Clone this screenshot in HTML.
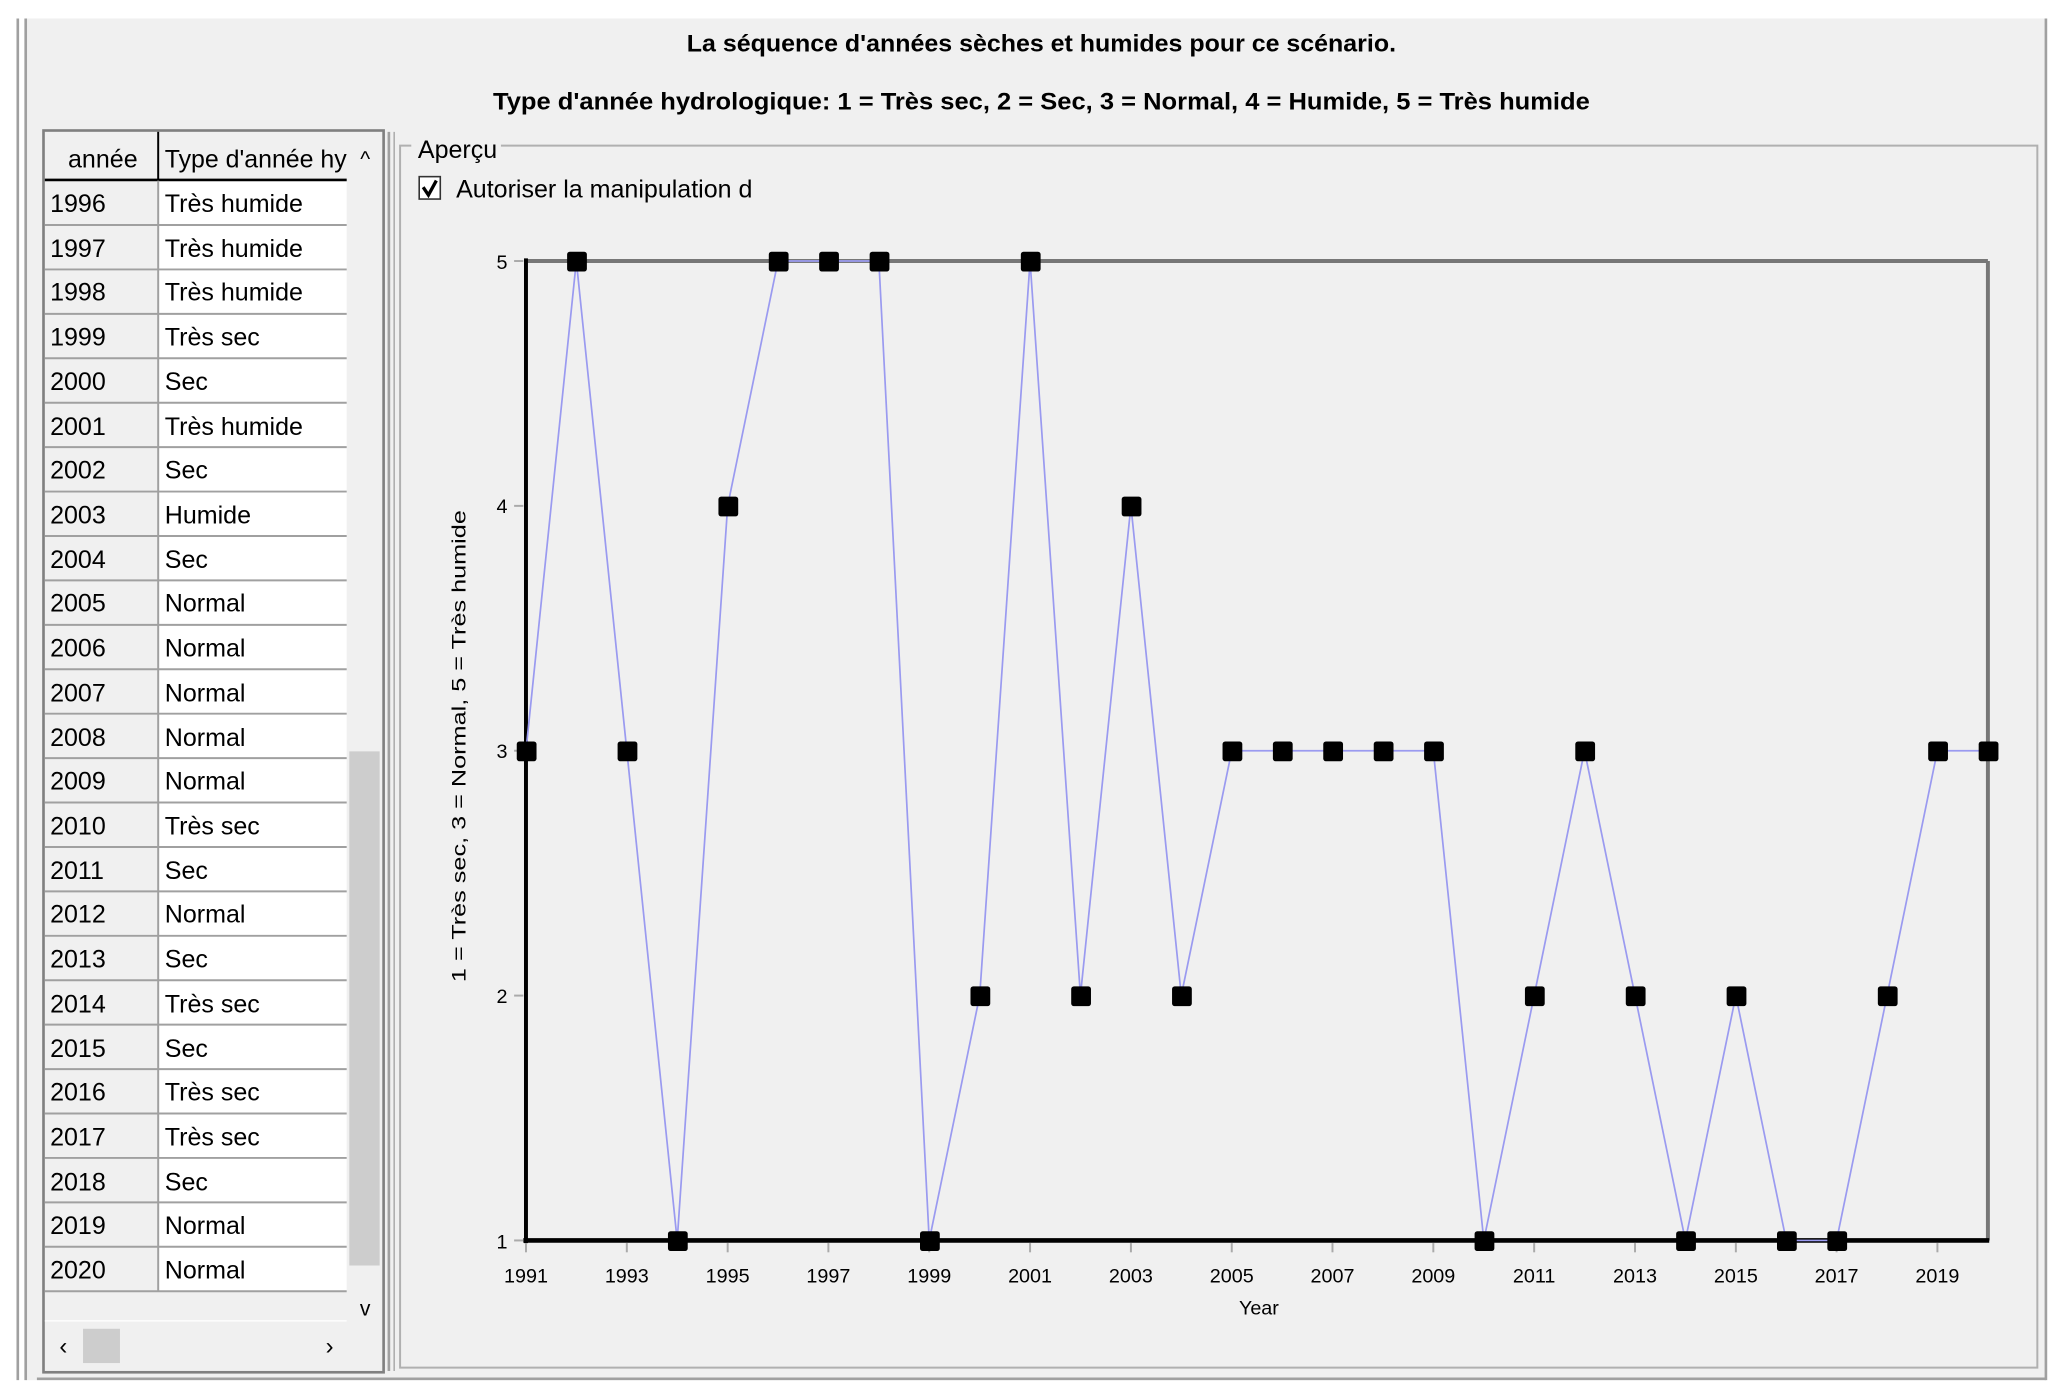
<!DOCTYPE html>
<html><head><meta charset="utf-8"><style>
html,body{margin:0;padding:0;background:#fff;}
svg{display:block;}
text{font-family:"Liberation Sans",sans-serif;fill:#000;}
.t{font-size:19px;}
.ax{font-size:15px;}
</style></head><body>
<svg width="2067" height="1396" viewBox="0 0 1568 1059" preserveAspectRatio="none" xmlns="http://www.w3.org/2000/svg">
<rect x="0" y="0" width="1568" height="1059" fill="#fff"/>
<rect x="20" y="14" width="1532" height="1033" fill="#f0f0f0"/>
<line x1="13.5" y1="14" x2="13.5" y2="1047" stroke="#a0a0a0" stroke-width="2"/>
<line x1="19.5" y1="14" x2="19.5" y2="1047" stroke="#a0a0a0" stroke-width="2"/>
<line x1="28" y1="1046" x2="1552" y2="1046" stroke="#a0a0a0" stroke-width="2"/>
<line x1="1552" y1="14" x2="1552" y2="1047" stroke="#a0a0a0" stroke-width="2"/>
<text x="790" y="39" text-anchor="middle" font-weight="bold" font-size="18" textLength="538" lengthAdjust="spacingAndGlyphs">La séquence d'années sèches et humides pour ce scénario.</text>
<text x="790" y="83" text-anchor="middle" font-weight="bold" font-size="18" textLength="832" lengthAdjust="spacingAndGlyphs">Type d'année hydrologique: 1 = Très sec, 2 = Sec, 3 = Normal, 4 = Humide, 5 = Très humide</text>

<!-- table -->
<rect x="33" y="99" width="258" height="942" fill="#f0f0f0" stroke="#808080" stroke-width="2"/>
<rect x="120" y="137" width="143" height="843" fill="#fff"/>
<line x1="34" y1="136.5" x2="263" y2="136.5" stroke="#000" stroke-width="2"/>
<line x1="120" y1="100" x2="120" y2="137" stroke="#000" stroke-width="1.5"/>
<text x="78" y="127" class="t" text-anchor="middle">année</text>
<text x="125" y="127" class="t" textLength="138" lengthAdjust="spacingAndGlyphs">Type d'année hy</text>
<text x="277" y="126" font-size="16" text-anchor="middle">^</text>
<rect x="265" y="570" width="23" height="390" fill="#cdcdcd"/>
<text x="277" y="998" font-size="16" text-anchor="middle">v</text>
<rect x="63" y="1008" width="28" height="26" fill="#cdcdcd"/>
<text x="48" y="1027" font-size="18" text-anchor="middle">‹</text>
<text x="250" y="1027" font-size="18" text-anchor="middle">›</text>
<line x1="34" y1="1002" x2="263" y2="1002" stroke="#fff" stroke-width="1"/>
<line x1="120" y1="137" x2="120" y2="979" stroke="#a0a0a0" stroke-width="1.5"/>
<g stroke="#a0a0a0" stroke-width="1.5">
<line x1="34" x2="263" y1="170.7" y2="170.7"/><line x1="34" x2="263" y1="204.4" y2="204.4"/><line x1="34" x2="263" y1="238.1" y2="238.1"/><line x1="34" x2="263" y1="271.8" y2="271.8"/><line x1="34" x2="263" y1="305.5" y2="305.5"/><line x1="34" x2="263" y1="339.2" y2="339.2"/><line x1="34" x2="263" y1="372.9" y2="372.9"/><line x1="34" x2="263" y1="406.6" y2="406.6"/><line x1="34" x2="263" y1="440.3" y2="440.3"/><line x1="34" x2="263" y1="474" y2="474"/><line x1="34" x2="263" y1="507.7" y2="507.7"/><line x1="34" x2="263" y1="541.4" y2="541.4"/><line x1="34" x2="263" y1="575.1" y2="575.1"/><line x1="34" x2="263" y1="608.8" y2="608.8"/><line x1="34" x2="263" y1="642.5" y2="642.5"/><line x1="34" x2="263" y1="676.2" y2="676.2"/><line x1="34" x2="263" y1="709.9" y2="709.9"/><line x1="34" x2="263" y1="743.6" y2="743.6"/><line x1="34" x2="263" y1="777.3" y2="777.3"/><line x1="34" x2="263" y1="811" y2="811"/><line x1="34" x2="263" y1="844.7" y2="844.7"/><line x1="34" x2="263" y1="878.4" y2="878.4"/><line x1="34" x2="263" y1="912.1" y2="912.1"/><line x1="34" x2="263" y1="945.8" y2="945.8"/><line x1="34" x2="263" y1="979.5" y2="979.5"/>
</g>
<g class="t">
<text x="38" y="161" class="t">1996</text><text x="125" y="161" class="t">Très humide</text>
<text x="38" y="195" class="t">1997</text><text x="125" y="195" class="t">Très humide</text>
<text x="38" y="228" class="t">1998</text><text x="125" y="228" class="t">Très humide</text>
<text x="38" y="262" class="t">1999</text><text x="125" y="262" class="t">Très sec</text>
<text x="38" y="296" class="t">2000</text><text x="125" y="296" class="t">Sec</text>
<text x="38" y="330" class="t">2001</text><text x="125" y="330" class="t">Très humide</text>
<text x="38" y="363" class="t">2002</text><text x="125" y="363" class="t">Sec</text>
<text x="38" y="397" class="t">2003</text><text x="125" y="397" class="t">Humide</text>
<text x="38" y="431" class="t">2004</text><text x="125" y="431" class="t">Sec</text>
<text x="38" y="464" class="t">2005</text><text x="125" y="464" class="t">Normal</text>
<text x="38" y="498" class="t">2006</text><text x="125" y="498" class="t">Normal</text>
<text x="38" y="532" class="t">2007</text><text x="125" y="532" class="t">Normal</text>
<text x="38" y="566" class="t">2008</text><text x="125" y="566" class="t">Normal</text>
<text x="38" y="599" class="t">2009</text><text x="125" y="599" class="t">Normal</text>
<text x="38" y="633" class="t">2010</text><text x="125" y="633" class="t">Très sec</text>
<text x="38" y="667" class="t">2011</text><text x="125" y="667" class="t">Sec</text>
<text x="38" y="700" class="t">2012</text><text x="125" y="700" class="t">Normal</text>
<text x="38" y="734" class="t">2013</text><text x="125" y="734" class="t">Sec</text>
<text x="38" y="768" class="t">2014</text><text x="125" y="768" class="t">Très sec</text>
<text x="38" y="802" class="t">2015</text><text x="125" y="802" class="t">Sec</text>
<text x="38" y="835" class="t">2016</text><text x="125" y="835" class="t">Très sec</text>
<text x="38" y="869" class="t">2017</text><text x="125" y="869" class="t">Très sec</text>
<text x="38" y="903" class="t">2018</text><text x="125" y="903" class="t">Sec</text>
<text x="38" y="936" class="t">2019</text><text x="125" y="936" class="t">Normal</text>
<text x="38" y="970" class="t">2020</text><text x="125" y="970" class="t">Normal</text>
</g>
<line x1="295" y1="100" x2="295" y2="1040" stroke="#a0a0a0" stroke-width="2"/>
<line x1="299" y1="100" x2="299" y2="1040" stroke="#a0a0a0" stroke-width="1"/>

<!-- groupbox -->
<path d="M312 110.5 H303.5 V1037.5 H1545.5 V110.5 H380" fill="none" stroke="#b0b0b0" stroke-width="1.5"/>
<text x="317" y="120" class="t">Aperçu</text>
<rect x="318" y="134" width="16" height="17" fill="#fff" stroke="#333" stroke-width="1.2"/>
<path d="M321 142 L325 148 L331 137" fill="none" stroke="#000" stroke-width="2.5"/>
<text x="346" y="150" class="t">Autoriser la manipulation d</text>

<!-- plot -->
<line x1="399" y1="198" x2="1508" y2="198" stroke="#777" stroke-width="3"/>
<line x1="1508" y1="198" x2="1508" y2="941" stroke="#777" stroke-width="3"/>
<line x1="399" y1="196" x2="399" y2="943" stroke="#000" stroke-width="3"/>
<line x1="397" y1="941" x2="1509" y2="941" stroke="#000" stroke-width="3.5"/>
<g stroke="#aaa" stroke-width="1.5">
<line x1="390" x2="397" y1="198" y2="198"/><line x1="390" x2="397" y1="383.75" y2="383.75"/><line x1="390" x2="397" y1="569.5" y2="569.5"/><line x1="390" x2="397" y1="755.25" y2="755.25"/><line x1="390" x2="397" y1="941" y2="941"/>
<line x1="399" x2="399" y1="943" y2="950"/><line x1="475.5" x2="475.5" y1="943" y2="950"/><line x1="552" x2="552" y1="943" y2="950"/><line x1="628.4" x2="628.4" y1="943" y2="950"/><line x1="704.9" x2="704.9" y1="943" y2="950"/><line x1="781.4" x2="781.4" y1="943" y2="950"/><line x1="857.9" x2="857.9" y1="943" y2="950"/><line x1="934.4" x2="934.4" y1="943" y2="950"/><line x1="1010.8" x2="1010.8" y1="943" y2="950"/><line x1="1087.3" x2="1087.3" y1="943" y2="950"/><line x1="1163.8" x2="1163.8" y1="943" y2="950"/><line x1="1240.3" x2="1240.3" y1="943" y2="950"/><line x1="1316.8" x2="1316.8" y1="943" y2="950"/><line x1="1393.2" x2="1393.2" y1="943" y2="950"/><line x1="1469.7" x2="1469.7" y1="943" y2="950"/>
</g>
<g class="ax" text-anchor="end">
<text x="385" y="204" class="ax" text-anchor="end">5</text>
<text x="385" y="389" class="ax" text-anchor="end">4</text>
<text x="385" y="575" class="ax" text-anchor="end">3</text>
<text x="385" y="761" class="ax" text-anchor="end">2</text>
<text x="385" y="947" class="ax" text-anchor="end">1</text>
</g>
<g text-anchor="middle">
<text x="399" y="973" class="ax" text-anchor="middle">1991</text>
<text x="475.5" y="973" class="ax" text-anchor="middle">1993</text>
<text x="552" y="973" class="ax" text-anchor="middle">1995</text>
<text x="628.4" y="973" class="ax" text-anchor="middle">1997</text>
<text x="704.9" y="973" class="ax" text-anchor="middle">1999</text>
<text x="781.4" y="973" class="ax" text-anchor="middle">2001</text>
<text x="857.9" y="973" class="ax" text-anchor="middle">2003</text>
<text x="934.4" y="973" class="ax" text-anchor="middle">2005</text>
<text x="1010.8" y="973" class="ax" text-anchor="middle">2007</text>
<text x="1087.3" y="973" class="ax" text-anchor="middle">2009</text>
<text x="1163.8" y="973" class="ax" text-anchor="middle">2011</text>
<text x="1240.3" y="973" class="ax" text-anchor="middle">2013</text>
<text x="1316.8" y="973" class="ax" text-anchor="middle">2015</text>
<text x="1393.2" y="973" class="ax" text-anchor="middle">2017</text>
<text x="1469.7" y="973" class="ax" text-anchor="middle">2019</text>
<text x="955" y="997" class="ax" text-anchor="middle">Year</text>
</g>
<text transform="translate(353,566) rotate(-90)" class="ax" text-anchor="middle" textLength="358" lengthAdjust="spacingAndGlyphs">1 = Très sec, 3 = Normal, 5 = Très humide</text>

<polyline fill="none" stroke="#9a9af0" stroke-width="1.3" points="399,569.5 437.2,198 475.5,569.5 513.7,941 552,383.75 590.2,198 628.4,198 666.7,198 704.9,941 743.2,755.25 781.4,198 819.6,755.25 857.9,383.75 896.1,755.25 934.4,569.5 972.6,569.5 1010.8,569.5 1049.1,569.5 1087.3,569.5 1125.6,941 1163.8,755.25 1202,569.5 1240.3,755.25 1278.5,941 1316.8,755.25 1355,941 1393.2,941 1431.5,755.25 1469.7,569.5 1508,569.5"/>
<g fill="#000">
<rect x="392" y="562.5" width="15" height="15" rx="2"/>
<rect x="430.2" y="191" width="15" height="15" rx="2"/>
<rect x="468.5" y="562.5" width="15" height="15" rx="2"/>
<rect x="506.7" y="934" width="15" height="15" rx="2"/>
<rect x="545" y="376.75" width="15" height="15" rx="2"/>
<rect x="583.2" y="191" width="15" height="15" rx="2"/>
<rect x="621.4" y="191" width="15" height="15" rx="2"/>
<rect x="659.7" y="191" width="15" height="15" rx="2"/>
<rect x="697.9" y="934" width="15" height="15" rx="2"/>
<rect x="736.2" y="748.25" width="15" height="15" rx="2"/>
<rect x="774.4" y="191" width="15" height="15" rx="2"/>
<rect x="812.6" y="748.25" width="15" height="15" rx="2"/>
<rect x="850.9" y="376.75" width="15" height="15" rx="2"/>
<rect x="889.1" y="748.25" width="15" height="15" rx="2"/>
<rect x="927.4" y="562.5" width="15" height="15" rx="2"/>
<rect x="965.6" y="562.5" width="15" height="15" rx="2"/>
<rect x="1003.8" y="562.5" width="15" height="15" rx="2"/>
<rect x="1042.1" y="562.5" width="15" height="15" rx="2"/>
<rect x="1080.3" y="562.5" width="15" height="15" rx="2"/>
<rect x="1118.6" y="934" width="15" height="15" rx="2"/>
<rect x="1156.8" y="748.25" width="15" height="15" rx="2"/>
<rect x="1195" y="562.5" width="15" height="15" rx="2"/>
<rect x="1233.3" y="748.25" width="15" height="15" rx="2"/>
<rect x="1271.5" y="934" width="15" height="15" rx="2"/>
<rect x="1309.8" y="748.25" width="15" height="15" rx="2"/>
<rect x="1348" y="934" width="15" height="15" rx="2"/>
<rect x="1386.2" y="934" width="15" height="15" rx="2"/>
<rect x="1424.5" y="748.25" width="15" height="15" rx="2"/>
<rect x="1462.7" y="562.5" width="15" height="15" rx="2"/>
<rect x="1501" y="562.5" width="15" height="15" rx="2"/>
</g>
</svg>
</body></html>
